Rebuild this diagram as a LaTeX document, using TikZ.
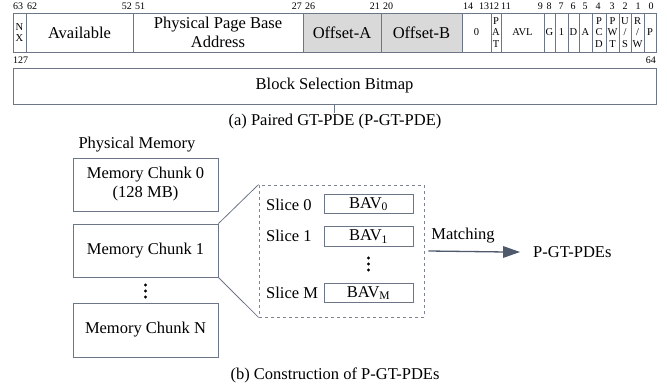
\documentclass[tikz,border=0pt]{standalone}
\usepackage{fontspec}
\setmainfont{Liberation Serif}
\usetikzlibrary{arrows.meta}

\definecolor{edgec}{RGB}{108,118,134}
\definecolor{dashc}{RGB}{122,132,148}
\definecolor{arrowc}{RGB}{78,90,108}
\definecolor{shade}{RGB}{217,217,217}

\tikzset{
  main/.style={font=\fontsize{16.5}{19}\selectfont},
  bitno/.style={font=\fontsize{10}{10}\selectfont, inner sep=0pt},
  small/.style={font=\fontsize{10.5}{11.5}\selectfont},
  fld/.style={draw=edgec, line width=0.9pt, minimum height=39pt, inner sep=0pt, align=center},
  grayfld/.style={fld, fill=shade},
  membox/.style={draw=edgec, line width=0.9pt, minimum width=145pt, inner sep=0pt, align=center, main},
  bavbox/.style={draw=edgec, line width=0.9pt, minimum width=89pt, minimum height=19.5pt, inner sep=0pt, main},
  slicelbl/.style={main, anchor=west, inner sep=0pt},
  dotc/.style={fill=black},
}

\begin{document}
\begin{tikzpicture}[x=1pt, y=-1pt]
\useasboundingbox (0,0) rectangle (667,385);

% ---------- (a) entry layout: low 64 bits ----------
\node[fld, minimum width=13pt, small] (nx) at (19.5,32.5) {N\\X};
\node[fld, minimum width=107pt, main] (avail) at (79.5,32.5) {Available};
\node[fld, minimum width=170pt, main] (ppba) at (218,32.5) {Physical Page Base\\Address};
\node[grayfld, minimum width=78pt, main] (offa) at (342,32.5) {Offset-A};
\node[grayfld, minimum width=81pt, main] (offb) at (421.5,32.5) {Offset-B};
\node[fld, minimum width=29pt, small] (zero) at (476.5,32.5) {0};
\node[fld, minimum width=10pt, small] (pat) at (496,32.5) {P\\A\\T};
\node[fld, minimum width=43pt, small] (avl) at (522.5,32.5) {AVL};
\node[fld, minimum width=11pt, small] (gb) at (549.5,32.5) {G};
\node[fld, minimum width=13pt, small] (one) at (561.5,32.5) {1};
\node[fld, minimum width=11pt, small] (db) at (573.5,32.5) {D};
\node[fld, minimum width=13pt, small] (ab) at (585.5,32.5) {A};
\node[fld, minimum width=14pt, small] (pcd) at (599,32.5) {P\\C\\D};
\node[fld, minimum width=13pt, small] (pwt) at (612.5,32.5) {P\\W\\T};
\node[fld, minimum width=12pt, small] (us) at (625,32.5) {U\\/\\S};
\node[fld, minimum width=13pt, small] (rw) at (637.5,32.5) {R\\/\\W};
\node[fld, minimum width=12pt, small] (pb) at (650,32.5) {P};

% bit positions
\node[bitno, anchor=west] (b63) at (13,6) {63};
\node[bitno, anchor=west] (b62) at (27,6) {62};
\node[bitno, anchor=east] (b52) at (132,6) {52};
\node[bitno, anchor=west] (b51) at (135,6) {51};
\node[bitno, anchor=east] (b27) at (302,6) {27};
\node[bitno, anchor=west] (b26) at (305,6) {26};
\node[bitno, anchor=east] (b21) at (380,6) {21};
\node[bitno, anchor=west] (b20) at (383,6) {20};
\node[bitno, anchor=west] (b14) at (463,6) {14};
\node[bitno] (b13) at (484,6) {13};
\node[bitno] (b12) at (494,6) {12};
\node[bitno, anchor=west] (b11) at (501,6) {11};
\node[bitno, anchor=east] (b9) at (543,6) {9};
\node[bitno] (b8) at (549,6) {8};
\node[bitno] (b7) at (561,6) {7};
\node[bitno] (b6) at (573,6) {6};
\node[bitno] (b5) at (585,6) {5};
\node[bitno] (b4) at (598,6) {4};
\node[bitno] (b3) at (612,6) {3};
\node[bitno] (b2) at (625,6) {2};
\node[bitno] (b1) at (638,6) {1};
\node[bitno] (b0) at (651,6) {0};

% ---------- (a) entry layout: high 64 bits ----------
\node[bitno, anchor=west] (b127) at (13,60) {127};
\node[bitno, anchor=east] (b64) at (656,60) {64};
\node[fld, minimum width=643pt, minimum height=36pt, main] (bsb) at (334.5,86) {Block Selection Bitmap};

\coordinate (tickend) at (334.5,113);
\draw[edgec, line width=0.8pt] (bsb.south) -- (tickend);
\node[main] (capa) at (335,122) {(a) Paired GT-PDE (P-GT-PDE)};

% ---------- (b) construction ----------
\node[main] (pmem) at (137,145) {Physical Memory};
\node[membox, minimum height=53pt] (c0) at (145.5,184.5) {Memory Chunk 0\\(128 MB)};
\node[membox, minimum height=53pt] (c1) at (145.5,250.5) {Memory Chunk 1};
\node[membox, minimum height=54pt] (cn) at (145.5,330) {Memory Chunk N};

\fill[dotc] (145.5,285) circle (1.6pt) (145.5,291) circle (1.6pt) (145.5,297) circle (1.6pt);

% expanded view of one chunk
\node[draw=dashc, dashed, line width=0.9pt, minimum width=165pt, minimum height=132pt, inner sep=0pt] (slices) at (341.5,251) {};
\draw[edgec, line width=0.8pt] (c1.north east) -- (slices.north west);
\draw[edgec, line width=0.8pt] (c1.south east) -- (slices.south west);

\node[slicelbl] (s0) at (266,205) {Slice 0};
\node[slicelbl] (s1) at (266,236) {Slice 1};
\node[slicelbl] (sm) at (266,293) {Slice M};
\node[bavbox] (bav0) at (368.5,204) {BAV\textsubscript{0}};
\node[bavbox] (bav1) at (368.5,236.5) {BAV\textsubscript{1}};
\node[bavbox] (bavm) at (368.5,293) {BAV\textsubscript{M}};
\fill[dotc] (368.5,258) circle (1.6pt) (368.5,264) circle (1.6pt) (368.5,270) circle (1.6pt);

% matching step: shaft plus a filled triangular head
\node[main, anchor=west, inner sep=0pt] (pgt) at (533,252) {P-GT-PDEs};
\node[main] (match) at (463,236) {Matching};
\coordinate (tip) at ([xshift=-13pt]pgt.west);
\draw[arrowc, line width=1.3pt] ([xshift=4pt]slices.east) -- ([xshift=-14pt]tip);
\fill[arrowc] (tip) -- ++(-17,-6) -- ++(0,12) -- cycle;

\node[main] (capb) at (335,375) {(b) Construction of P-GT-PDEs};
\end{tikzpicture}
\end{document}
